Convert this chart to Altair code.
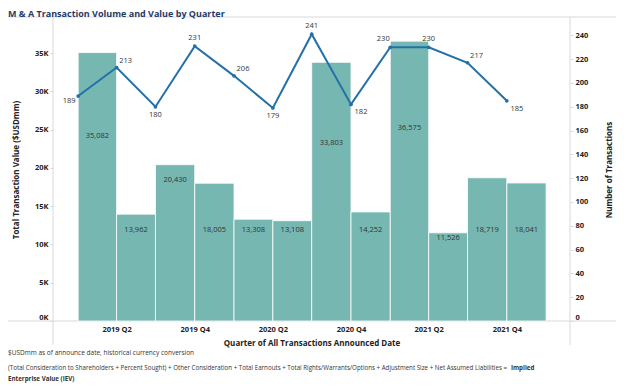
import altair as alt
import pandas as pd

# ---- data ----
quarter_starts = ["2019-01-01", "2019-04-01", "2019-07-01", "2019-10-01",
                  "2020-01-01", "2020-04-01", "2020-07-01", "2020-10-01",
                  "2021-01-01", "2021-04-01", "2021-07-01", "2021-10-01"]
transaction_value = [35082, 13962, 20430, 18005, 13308, 13108,
                     33803, 14252, 36575, 11526, 18719, 18041]
transaction_count = [189, 213, 180, 231, 206, 179, 241, 182, 230, 230, 217, 185]
x_tick_dates = ["2019-04-01", "2019-10-01", "2020-04-01",
                "2020-10-01", "2021-04-01", "2021-10-01"]
value_ticks = [0, 5000, 10000, 15000, 20000, 25000, 30000, 35000]
count_ticks = [0, 20, 40, 60, 80, 100, 120, 140, 160, 180, 200, 220, 240]

title_text = "M & A Transaction Volume and Value by Quarter"
y_left_title = "Total Transaction Value ($USDmm)"
y_right_title = "Number of Transactions"
x_title = "Quarter of All Transactions Announced Date"
note_1 = "$USDmm as of announce date, historical currency conversion"
note_2 = ("(Total Consideration to Shareholders + Percent Sought) + Other Consideration + "
          "Total Earnouts + Total Rights/Warrants/Options + Adjustment Size + "
          "Net Assumed Liabilities = ")
note_2_bold = "Implied"
note_3_bold = "Enterprise Value (IEV)"

# ---- build table ----
starts = pd.to_datetime(quarter_starts)
ends = starts + pd.offsets.QuarterBegin(startingMonth=1)
mids = starts + (ends - starts) / 2


def iso(ts):
    return ts.strftime("%Y-%m-%dT%H:%M:%SZ")


# label placement for the count line, derived from neighbouring values
n = len(transaction_count)
place = []
for i, c in enumerate(transaction_count):
    prev = transaction_count[i - 1] if i > 0 else None
    nxt = transaction_count[i + 1] if i < n - 1 else None
    neigh = [v for v in (prev, nxt) if v is not None]
    d_in = abs(c - prev) if prev is not None else 0
    d_out = abs(nxt - c) if nxt is not None else 0
    if all(c < v for v in neigh):
        if prev is None:
            place.append("below-left")
        elif d_in > d_out:
            place.append("below-right")
        else:
            place.append("below-center")
    else:
        if prev is not None and nxt is not None and prev > c > nxt:
            place.append("above-right")
        elif prev is not None and nxt is not None and prev < c and nxt == c:
            place.append("above-left")
        elif prev is not None and nxt is not None and prev < c > nxt and d_out > d_in:
            place.append("above-right")
        else:
            place.append("above-center")

df = pd.DataFrame({
    "start": [iso(t) for t in starts],
    "end": [iso(t) for t in ends],
    "mid": [iso(t) for t in mids],
    "value": transaction_value,
    "count": transaction_count,
    "place": place,
})


def dt(s):
    y, m, d = (int(p) for p in s.split("-"))
    return alt.DateTime(year=y, month=m, date=d, utc=True)


FONT = "Open Sans"
TEXT = "#333333"
BAR = "#76b7b2"
LINE = "#2471a8"
BORDER = "#d9d9d9"

W, H = 517, 303

xscale = alt.Scale(type="utc", domain=[dt("2018-11-03"), dt("2022-02-26")])
yl_scale = alt.Scale(domain=[0, 39600], nice=False, zero=True)
yr_scale = alt.Scale(domain=[0, 254.6], nice=False, zero=True)

zero_up = {"condition": {"test": "datum.value == 0", "value": "bottom"}, "value": "middle"}

x_axis = alt.Axis(values=[dt(s) for s in x_tick_dates], format="%Y Q%q",
                  title=x_title, ticks=False, domain=False, grid=False,
                  labelPadding=4, titlePadding=7, labelFontWeight="bold",
                  labelFontSize=7.5, titleFontSize=8, labelColor="#222",
                  titleColor="#222")

base = alt.Chart(df)

bars = base.mark_bar(color=BAR, stroke="white", strokeWidth=0.8).encode(
    x=alt.X("start:T", scale=xscale, axis=x_axis),
    x2="end:T",
    y=alt.Y("value:Q", scale=yl_scale,
            axis=alt.Axis(values=value_ticks, labelExpr="(datum.value/1000) + 'K'",
                          title=y_left_title, grid=False, domain=False,
                          tickSize=3, tickColor=BORDER, labelPadding=2,
                          labelBaseline=zero_up,
                          labelFontWeight="bold", labelFontSize=7.5,
                          labelColor="#222", titleFontSize=8, titleColor="#222",
                          titlePadding=14)),
    y2=alt.datum(0),
)

bar_labels = base.transform_calculate(
    labelpos="datum.value > 30000 ? datum.value * 0.69 : "
             "(datum.value > 20000 ? datum.value - 2000 : min(datum.value - 700, 11900))",
    labeltxt="format(datum.value, ',')",
).mark_text(font=FONT, fontSize=7.5, color=TEXT).encode(
    x=alt.X("mid:T", scale=xscale, axis=x_axis),
    y=alt.Y("labelpos:Q", scale=yl_scale, axis=None),
    text="labeltxt:N",
)

line = base.mark_line(color=LINE, strokeWidth=2).encode(
    x=alt.X("start:T", scale=xscale, axis=x_axis),
    y=alt.Y("count:Q", scale=yr_scale,
            axis=alt.Axis(orient="right", values=count_ticks, title=y_right_title,
                          grid=False, domain=False, tickSize=3, tickColor=BORDER,
                          labelPadding=2, labelBaseline=zero_up,
                          labelFontWeight="bold", labelFontSize=7.5,
                          labelColor="#222", titleFontSize=8, titleColor="#222",
                          titleAngle=270, titlePadding=26)),
)

points = base.mark_circle(color=LINE, size=14, opacity=1).encode(
    x=alt.X("start:T", scale=xscale, axis=x_axis),
    y=alt.Y("count:Q", scale=yr_scale, axis=None),
)

offsets = {
    "above-center": (0, -8), "above-right": (9, -7), "above-left": (-7, -8),
    "below-center": (0, 8), "below-left": (-9, 5), "below-right": (10, 8),
}
count_labels = []
for key, (ddx, ddy) in offsets.items():
    count_labels.append(
        base.transform_filter(alt.datum.place == key).mark_text(
            font=FONT, fontSize=7.5, color=TEXT, dx=ddx, dy=ddy).encode(
            x=alt.X("start:T", scale=xscale, axis=x_axis),
            y=alt.Y("count:Q", scale=yr_scale, axis=None),
            text="count:Q",
        )
    )

one = pd.DataFrame({"k": [0]})


def hrule(y, x1, x2):
    return alt.Chart(one).mark_rule(color=BORDER, strokeWidth=1).encode(
        y=alt.value(y), x=alt.value(x1), x2=alt.value(x2))


def vrule(x, y1, y2):
    return alt.Chart(one).mark_rule(color=BORDER, strokeWidth=1).encode(
        x=alt.value(x), y=alt.value(y1), y2=alt.value(y2))


def label(txt, x, y, size, weight="normal", color=TEXT):
    return alt.Chart(one).mark_text(
        text=txt, font=FONT, fontSize=size, fontWeight=weight, color=color,
        align="left", baseline="middle").encode(x=alt.value(x), y=alt.value(y))


decor = [
    hrule(-1, -45, W + 46),
    hrule(H, -45, W + 46),
    vrule(0, -1, H + 24),
    vrule(W, -1, H + 24),
]

notes = [
    label(title_text, -45, -4.5, 9, "bold", "#1f3b66"),
    label(note_1, -45, 335, 6.5),
    label(note_2, -45, 350, 6.2),
    label(note_2_bold, 458, 350, 6.2, "bold"),
    label(note_3_bold, -45, 361, 6.2, "bold"),
]

chart = alt.layer(
    *decor, bars, bar_labels, line, points, *count_labels, *notes
).resolve_scale(y="independent").properties(
    width=W, height=H,
    autosize=alt.AutoSizeParams(type="none"),
    padding={"left": 45, "top": 10, "right": 46, "bottom": 63},
).configure_view(stroke=None).configure_axis(
    labelFont=FONT, titleFont=FONT, titleFontWeight="bold"
)

chart.save("out.html", embed_options={"renderer": "svg", "actions": False})
